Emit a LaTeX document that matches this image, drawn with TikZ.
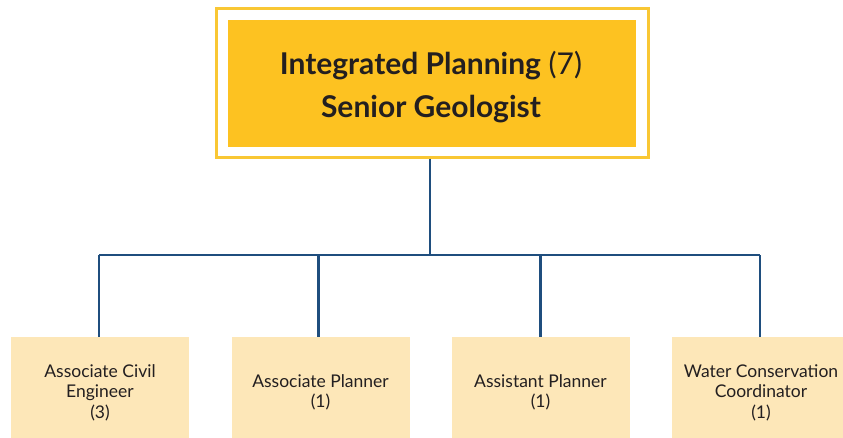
\documentclass[tikz,border=0pt]{standalone}
\usepackage{fontspec}
\setmainfont{Lato}
\definecolor{gold}{HTML}{FDC221}
\definecolor{goldline}{HTML}{F9C734}
\definecolor{pale}{HTML}{FDE7B8}
\definecolor{linkblue}{HTML}{1F4E7E}
\definecolor{ink}{HTML}{231F20}
\begin{document}
\begin{tikzpicture}[x=1pt,y=-1pt,
  frame/.style={draw=goldline,line width=3pt,minimum width=432pt,minimum height=149pt,inner sep=0pt},
  topbox/.style={fill=gold,minimum width=408pt,minimum height=127pt,inner sep=0pt},
  toptext/.style={inner sep=0pt,align=center,text=ink,font=\fontsize{30}{43}\selectfont},
  rolebox/.style={fill=pale,minimum width=178pt,minimum height=111pt,inner sep=0pt,align=center,text=ink,font=\fontsize{17.5}{20.5}\selectfont},
  link/.style={draw=linkblue,line width=2.6pt}]
\useasboundingbox (0,0) rectangle (843,437);
\clip (0,0) rectangle (843,437);
\node[frame] (topframe) at (432.5,82.5) {};
\node[topbox] (top) at (432,83.5) {};
\node[toptext] (toplabel) at (431,87.5) {\textbf{Integrated Planning} (7)\\\textbf{Senior Geologist}};
\node[rolebox] (b1) at (100,392.5) {Associate Civil\\Engineer\\(3)};
\node[rolebox] (b2) at (320.5,392.5) {Associate Planner\\(1)};
\node[rolebox] (b3) at (540.5,392.5) {Assistant Planner\\(1)};
\node[rolebox] (b4) at (761,392.5) {Water Conservation\\Coordinator\\(1)};
\coordinate (bus) at (430,255);
\draw[link] (bus |- topframe.south) -- (bus);
\draw[link] ([xshift=-1pt]b1.north |- bus) -- ([xshift=-1pt]b4.north |- bus);
\draw[link] ([xshift=-1pt]b1.north |- bus) -- ([xshift=-1pt]b1.north);
\draw[link] ([xshift=-2pt]b2.north |- bus) -- ([xshift=-2pt]b2.north);
\draw[link] (b3.north |- bus) -- (b3.north);
\draw[link] ([xshift=-1pt]b4.north |- bus) -- ([xshift=-1pt]b4.north);
\end{tikzpicture}
\end{document}
